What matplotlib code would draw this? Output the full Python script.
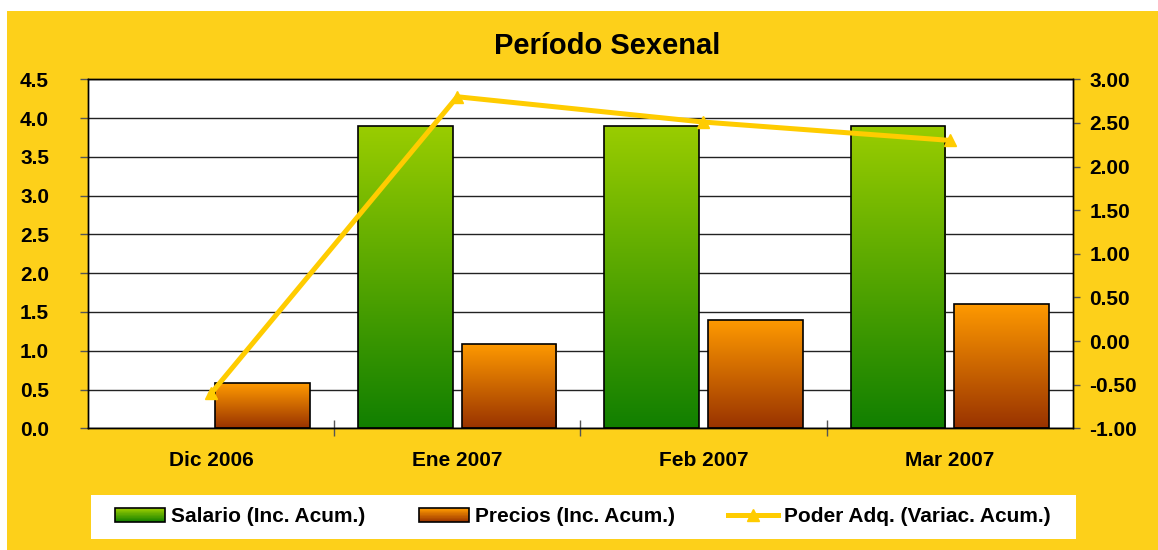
import matplotlib
matplotlib.use('Agg')
import matplotlib.pyplot as plt
import numpy as np
from matplotlib.patches import Rectangle
from matplotlib.colors import LinearSegmentedColormap
from matplotlib.legend_handler import HandlerBase
from matplotlib.lines import Line2D
from matplotlib.ticker import FormatStrFormatter, FixedLocator

# ---------------- data ----------------
categories = ['Dic 2006', 'Ene 2007', 'Feb 2007', 'Mar 2007']
salario = [0.0, 3.9, 3.9, 3.9]
precios = [0.58, 1.09, 1.40, 1.60]
poder = [-0.60, 2.80, 2.51, 2.30]
left_ticks = [0.0, 0.5, 1.0, 1.5, 2.0, 2.5, 3.0, 3.5, 4.0, 4.5]
right_ticks = [-1.0, -0.5, 0.0, 0.5, 1.0, 1.5, 2.0, 2.5, 3.0]
labels = ['Salario (Inc. Acum.)', 'Precios (Inc. Acum.)', 'Poder Adq. (Variac. Acum.)']
title = 'Período Sexenal'

# ---------------- style ----------------
YEL = '#FDD01A'
LINE = '#FFCC00'
G_TOP, G_BOT = '#9ACD00', '#117F00'
O_TOP, O_BOT = '#FF9A00', '#993300'
FONT = 'Liberation Sans'
FS = 15

W, H = 1158, 550
fig = plt.figure(figsize=(W / 100, H / 100), dpi=100)
fig.patch.set_facecolor('white')
fig.add_artist(Rectangle((7 / W, 0), 1 - 7 / W, (H - 11) / H, transform=fig.transFigure,
                         facecolor=YEL, edgecolor='none', zorder=-5))

left, right, top, bottom = 88, 1072.7, 79.3, 428.3
ax = fig.add_axes([left / W, 1 - bottom / H, (right - left) / W, (bottom - top) / H])
ax.set_facecolor('white')

x = np.arange(len(categories))
bw = 0.385
off = 0.21


def grad_fill(ax, bar, ctop, cbot):
    h = bar.get_height()
    if h <= 0:
        bar.set_visible(False)
        return
    cmap = LinearSegmentedColormap.from_list('g', [cbot, ctop])
    x0, y0, w = bar.get_x(), bar.get_y(), bar.get_width()
    grad = np.linspace(0, 1, 256).reshape(-1, 1)
    im = ax.imshow(grad, extent=[x0, x0 + w, y0, y0 + h], origin='lower', cmap=cmap,
                   aspect='auto', zorder=2, interpolation='bilinear')
    im.set_clip_path(bar)


bars_s = ax.bar(x - off, salario, bw, facecolor='none', edgecolor='black', lw=1.2, zorder=3)
bars_p = ax.bar(x + off, precios, bw, facecolor='none', edgecolor='black', lw=1.2, zorder=3)
for b in bars_s:
    grad_fill(ax, b, G_TOP, G_BOT)
for b in bars_p:
    grad_fill(ax, b, O_TOP, O_BOT)

ax.set_xlim(-0.5, len(categories) - 0.5)
ax.set_ylim(left_ticks[0], left_ticks[-1])
ax.set_yticks(left_ticks)
ax.yaxis.set_major_formatter(FormatStrFormatter('%.1f'))
ax.yaxis.grid(True, color='#222222', lw=1.0)
ax.set_axisbelow(True)
ax.set_xticks(x)
ax.set_xticklabels(categories)
ax.xaxis.set_minor_locator(FixedLocator(x[:-1] + 0.5))
ax.tick_params(axis='x', which='major', length=0, pad=16)
ax.tick_params(axis='x', which='minor', direction='inout', length=11, width=1, color='#555555')
ax.tick_params(axis='y', which='major', direction='out', length=6, width=1, color='#555555', pad=22)
for lab in ax.get_xticklabels() + ax.get_yticklabels():
    lab.set_fontfamily(FONT)
    lab.set_fontweight('bold')
    lab.set_fontsize(FS)
for sp in ax.spines.values():
    sp.set_color('black')
    sp.set_linewidth(1.0)

ax2 = ax.twinx()
ax2.patch.set_visible(False)
ax2.plot(x, poder, color=LINE, lw=3.6, marker='^', ms=8, zorder=5, clip_on=False)
ax2.set_ylim(right_ticks[0], right_ticks[-1])
ax2.set_yticks(right_ticks)
ax2.yaxis.set_major_formatter(FormatStrFormatter('%.2f'))
ax2.tick_params(axis='y', direction='out', length=5, width=1, color='#555555', pad=7)
for lab in ax2.get_yticklabels():
    lab.set_fontfamily(FONT)
    lab.set_fontweight('bold')
    lab.set_fontsize(FS)
for sp in ax2.spines.values():
    sp.set_color('black')
    sp.set_linewidth(1.0)

fig.text(607 / W, 1 - 54.3 / H, title, ha='center', va='baseline',
         fontfamily=FONT, fontweight='bold', fontsize=21)


# ---------------- legend ----------------
class GradHandler(HandlerBase):
    def __init__(self, ctop, cbot):
        super().__init__()
        self.ctop, self.cbot = ctop, cbot

    def create_artists(self, legend, orig_handle, xdescent, ydescent, width, height,
                       fontsize, trans):
        cmap = LinearSegmentedColormap.from_list('g', [self.cbot, self.ctop])
        n = 24
        arts = []
        for i in range(n):
            r = Rectangle((-xdescent, -ydescent + height * i / n), width, height / n * 1.05,
                          facecolor=cmap(i / (n - 1)), edgecolor='none', transform=trans)
            arts.append(r)
        arts.append(Rectangle((-xdescent, -ydescent), width, height, facecolor='none',
                              edgecolor='black', lw=1.2, transform=trans))
        return arts


h_s = Rectangle((0, 0), 1, 1)
h_p = Rectangle((0, 0), 1, 1)
h_l = Line2D([], [], color=LINE, lw=3.6, marker='^', ms=8)

fig.add_artist(Rectangle((91 / W, 1 - 539 / H), (1076 - 91) / W, 44 / H, transform=fig.transFigure,
                         facecolor='white', edgecolor='none', zorder=1))
leg = fig.legend([h_s, h_p, h_l], labels, loc='center', bbox_to_anchor=(583 / W, 1 - 517 / H),
                 ncol=3, frameon=False, handlelength=2.4, handleheight=0.65, handletextpad=0.3,
                 columnspacing=2.55, borderpad=0,
                 prop={'family': FONT, 'weight': 'bold', 'size': FS},
                 handler_map={h_s: GradHandler(G_TOP, G_BOT), h_p: GradHandler(O_TOP, O_BOT)})
leg.set_zorder(6)

fig.savefig('out.png', dpi=100, facecolor=fig.get_facecolor())
